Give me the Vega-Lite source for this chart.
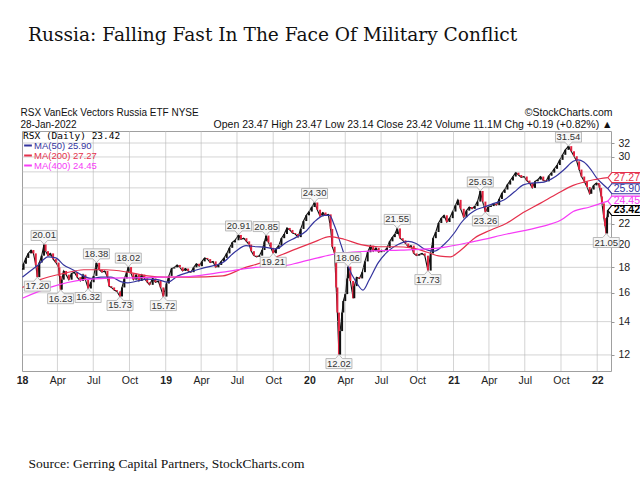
{
  "$schema": "https://vega.github.io/schema/vega-lite/v6.json",
  "width": 589,
  "height": 240,
  "autosize": {"type": "none"},
  "padding": {"left": 22, "top": 131, "right": 29, "bottom": 109},
  "background": "white",
  "title": {
    "text": "Russia: Falling Fast In The Face Of Military Conflict",
    "anchor": "start", "frame": "group", "dx": 6, "offset": 63,
    "font": "DejaVu Serif", "fontSize": 18.6, "fontWeight": "normal", "color": "#111"
  },
  "config": {"view": {"stroke": "#a0a0a0"}, "font": "Liberation Sans"},
  "resolve": {"axis": {"x": "independent", "y": "independent"}},
  "datasets": {
    "grid": [
      {"q":"2018-04-01"},{"q":"2018-07-01"},{"q":"2018-10-01"},{"q":"2019-01-01"},{"q":"2019-04-01"},{"q":"2019-07-01"},{"q":"2019-10-01"},{"q":"2020-01-01"},{"q":"2020-04-01"},{"q":"2020-07-01"},{"q":"2020-10-01"},{"q":"2021-01-01"},{"q":"2021-04-01"},{"q":"2021-07-01"},{"q":"2021-10-01"},{"q":"2022-01-01"}
    ],
    "hgrid": [
      {"g":12},{"g":14},{"g":16},{"g":18},{"g":20},{"g":22},{"g":24},{"g":26},{"g":28},{"g":30},{"g":32}
    ],
    "price": [
      {"d":"2018-01-02","c":17.8},{"d":"2018-01-05","c":18.3},{"d":"2018-01-11","c":18.8},{"d":"2018-01-17","c":19.2},{"d":"2018-01-24","c":19.5},{"d":"2018-01-30","c":19.2},{"d":"2018-02-05","c":18.2},{"d":"2018-02-09","c":17.2},{"d":"2018-02-14","c":18.4},{"d":"2018-02-20","c":19.0},{"d":"2018-02-26","c":20.01},{"d":"2018-03-02","c":19.4},{"d":"2018-03-08","c":19.0},{"d":"2018-03-14","c":19.2},{"d":"2018-03-21","c":18.7},{"d":"2018-03-28","c":18.4},{"d":"2018-04-04","c":18.0},{"d":"2018-04-06","c":17.3},{"d":"2018-04-09","c":16.23},{"d":"2018-04-12","c":17.0},{"d":"2018-04-17","c":17.7},{"d":"2018-04-23","c":17.4},{"d":"2018-04-30","c":17.0},{"d":"2018-05-07","c":17.5},{"d":"2018-05-14","c":17.6},{"d":"2018-05-21","c":17.2},{"d":"2018-05-29","c":16.9},{"d":"2018-06-05","c":17.4},{"d":"2018-06-11","c":17.0},{"d":"2018-06-18","c":16.32},{"d":"2018-06-25","c":16.8},{"d":"2018-07-02","c":17.3},{"d":"2018-07-09","c":18.38},{"d":"2018-07-16","c":17.8},{"d":"2018-07-23","c":17.6},{"d":"2018-07-30","c":17.7},{"d":"2018-08-06","c":17.2},{"d":"2018-08-10","c":16.5},{"d":"2018-08-16","c":16.4},{"d":"2018-08-23","c":16.2},{"d":"2018-08-30","c":16.1},{"d":"2018-09-07","c":15.73},{"d":"2018-09-12","c":16.4},{"d":"2018-09-18","c":17.1},{"d":"2018-09-24","c":17.6},{"d":"2018-09-28","c":18.02},{"d":"2018-10-05","c":17.5},{"d":"2018-10-11","c":17.0},{"d":"2018-10-18","c":17.4},{"d":"2018-10-25","c":16.9},{"d":"2018-11-01","c":17.4},{"d":"2018-11-08","c":17.1},{"d":"2018-11-15","c":16.8},{"d":"2018-11-21","c":16.6},{"d":"2018-11-29","c":17.1},{"d":"2018-12-06","c":16.8},{"d":"2018-12-13","c":16.9},{"d":"2018-12-19","c":16.4},{"d":"2018-12-26","c":15.72},
      {"d":"2019-01-03","c":16.7},{"d":"2019-01-09","c":17.3},{"d":"2019-01-16","c":17.9},{"d":"2019-01-23","c":18.0},{"d":"2019-01-30","c":18.2},{"d":"2019-02-06","c":18.0},{"d":"2019-02-13","c":17.7},{"d":"2019-02-20","c":17.9},{"d":"2019-02-27","c":17.7},{"d":"2019-03-06","c":17.6},{"d":"2019-03-13","c":18.0},{"d":"2019-03-20","c":18.3},{"d":"2019-03-27","c":18.1},{"d":"2019-04-03","c":18.5},{"d":"2019-04-10","c":18.8},{"d":"2019-04-17","c":18.7},{"d":"2019-04-24","c":18.4},{"d":"2019-05-01","c":18.5},{"d":"2019-05-08","c":18.0},{"d":"2019-05-15","c":18.2},{"d":"2019-05-22","c":18.5},{"d":"2019-05-29","c":18.8},{"d":"2019-06-05","c":19.2},{"d":"2019-06-12","c":19.7},{"d":"2019-06-19","c":20.2},{"d":"2019-06-26","c":20.4},{"d":"2019-07-05","c":20.91},{"d":"2019-07-11","c":20.5},{"d":"2019-07-18","c":20.6},{"d":"2019-07-25","c":20.3},{"d":"2019-08-01","c":20.0},{"d":"2019-08-06","c":19.4},{"d":"2019-08-13","c":19.0},{"d":"2019-08-20","c":18.9},{"d":"2019-08-27","c":19.0},{"d":"2019-09-03","c":19.5},{"d":"2019-09-09","c":20.3},{"d":"2019-09-13","c":20.85},{"d":"2019-09-19","c":20.2},{"d":"2019-09-25","c":19.7},{"d":"2019-10-01","c":19.21},{"d":"2019-10-08","c":19.6},{"d":"2019-10-15","c":19.9},{"d":"2019-10-22","c":20.6},{"d":"2019-10-29","c":21.0},{"d":"2019-11-05","c":21.6},{"d":"2019-11-12","c":21.4},{"d":"2019-11-19","c":21.1},{"d":"2019-11-26","c":21.0},{"d":"2019-12-03","c":20.7},{"d":"2019-12-10","c":21.5},{"d":"2019-12-17","c":22.3},{"d":"2019-12-24","c":22.9},{"d":"2019-12-31","c":23.3},
      {"d":"2020-01-07","c":23.8},{"d":"2020-01-14","c":24.3},{"d":"2020-01-21","c":23.5},{"d":"2020-01-28","c":22.8},{"d":"2020-02-04","c":23.2},{"d":"2020-02-11","c":22.9},{"d":"2020-02-18","c":23.0},{"d":"2020-02-24","c":21.5},{"d":"2020-02-28","c":19.8},{"d":"2020-03-05","c":19.2},{"d":"2020-03-09","c":16.4},{"d":"2020-03-12","c":14.6},{"d":"2020-03-16","c":12.02},{"d":"2020-03-19","c":13.4},{"d":"2020-03-24","c":14.6},{"d":"2020-03-27","c":15.4},{"d":"2020-04-01","c":15.9},{"d":"2020-04-06","c":17.1},{"d":"2020-04-08","c":18.06},{"d":"2020-04-14","c":16.9},{"d":"2020-04-21","c":15.6},{"d":"2020-04-24","c":16.5},{"d":"2020-04-30","c":17.2},{"d":"2020-05-07","c":17.1},{"d":"2020-05-14","c":17.6},{"d":"2020-05-21","c":18.5},{"d":"2020-05-28","c":19.3},{"d":"2020-06-04","c":19.9},{"d":"2020-06-11","c":19.4},{"d":"2020-06-18","c":19.7},{"d":"2020-06-25","c":19.3},{"d":"2020-07-02","c":19.5},{"d":"2020-07-09","c":19.4},{"d":"2020-07-16","c":19.7},{"d":"2020-07-23","c":20.3},{"d":"2020-07-30","c":20.7},{"d":"2020-08-05","c":21.0},{"d":"2020-08-11","c":21.55},{"d":"2020-08-18","c":20.6},{"d":"2020-08-25","c":20.4},{"d":"2020-09-01","c":20.1},{"d":"2020-09-08","c":19.8},{"d":"2020-09-15","c":19.9},{"d":"2020-09-22","c":19.2},{"d":"2020-09-29","c":19.0},{"d":"2020-10-06","c":19.1},{"d":"2020-10-13","c":19.2},{"d":"2020-10-20","c":19.0},{"d":"2020-10-28","c":17.73},{"d":"2020-11-04","c":19.2},{"d":"2020-11-10","c":20.6},{"d":"2020-11-17","c":21.2},{"d":"2020-11-24","c":22.1},{"d":"2020-12-01","c":22.6},{"d":"2020-12-08","c":22.9},{"d":"2020-12-15","c":22.2},{"d":"2020-12-22","c":22.6},{"d":"2020-12-30","c":23.3},
      {"d":"2021-01-06","c":24.0},{"d":"2021-01-12","c":24.6},{"d":"2021-01-19","c":23.6},{"d":"2021-01-27","c":22.7},{"d":"2021-02-03","c":23.4},{"d":"2021-02-10","c":23.8},{"d":"2021-02-17","c":23.6},{"d":"2021-02-24","c":23.9},{"d":"2021-03-03","c":24.4},{"d":"2021-03-10","c":25.63},{"d":"2021-03-16","c":24.4},{"d":"2021-03-23","c":23.26},{"d":"2021-03-30","c":23.8},{"d":"2021-04-06","c":23.9},{"d":"2021-04-13","c":24.2},{"d":"2021-04-20","c":24.0},{"d":"2021-04-27","c":24.7},{"d":"2021-05-04","c":25.4},{"d":"2021-05-11","c":25.8},{"d":"2021-05-18","c":26.4},{"d":"2021-05-25","c":26.9},{"d":"2021-06-01","c":27.4},{"d":"2021-06-08","c":27.9},{"d":"2021-06-15","c":27.6},{"d":"2021-06-22","c":27.3},{"d":"2021-06-29","c":27.4},{"d":"2021-07-06","c":26.9},{"d":"2021-07-13","c":26.6},{"d":"2021-07-20","c":26.0},{"d":"2021-07-27","c":26.8},{"d":"2021-08-03","c":27.0},{"d":"2021-08-10","c":27.4},{"d":"2021-08-17","c":26.9},{"d":"2021-08-24","c":26.8},{"d":"2021-08-31","c":27.5},{"d":"2021-09-07","c":27.9},{"d":"2021-09-14","c":28.4},{"d":"2021-09-21","c":28.9},{"d":"2021-09-28","c":29.6},{"d":"2021-10-05","c":30.3},{"d":"2021-10-12","c":31.0},{"d":"2021-10-20","c":31.54},{"d":"2021-10-27","c":30.8},{"d":"2021-11-03","c":30.1},{"d":"2021-11-10","c":29.4},{"d":"2021-11-16","c":28.3},{"d":"2021-11-22","c":27.4},{"d":"2021-11-29","c":26.8},{"d":"2021-12-06","c":26.1},{"d":"2021-12-13","c":25.3},{"d":"2021-12-17","c":25.8},{"d":"2021-12-23","c":26.3},{"d":"2021-12-30","c":26.6},
      {"d":"2022-01-05","c":26.4},{"d":"2022-01-07","c":26.0},{"d":"2022-01-11","c":25.0},{"d":"2022-01-13","c":24.2},{"d":"2022-01-18","c":22.6},{"d":"2022-01-21","c":21.8},{"d":"2022-01-24","c":21.05},{"d":"2022-01-26","c":22.7},{"d":"2022-01-28","c":23.42}
    ],
    "ma": [
      {"s":"MA(50)","d":"2018-01-02","v":17.2},{"s":"MA(50)","d":"2018-01-22","v":17.7},{"s":"MA(50)","d":"2018-02-11","v":18.2},{"s":"MA(50)","d":"2018-03-08","v":18.9},{"s":"MA(50)","d":"2018-03-28","v":18.8},{"s":"MA(50)","d":"2018-04-17","v":18.2},{"s":"MA(50)","d":"2018-05-10","v":17.8},{"s":"MA(50)","d":"2018-05-31","v":17.4},{"s":"MA(50)","d":"2018-06-25","v":17.1},{"s":"MA(50)","d":"2018-07-20","v":17.2},{"s":"MA(50)","d":"2018-08-15","v":17.2},{"s":"MA(50)","d":"2018-09-09","v":16.85},{"s":"MA(50)","d":"2018-09-27","v":16.75},{"s":"MA(50)","d":"2018-10-22","v":16.9},{"s":"MA(50)","d":"2018-11-16","v":17.05},{"s":"MA(50)","d":"2018-12-12","v":17.0},{"s":"MA(50)","d":"2019-01-06","v":16.8},{"s":"MA(50)","d":"2019-02-01","v":17.3},{"s":"MA(50)","d":"2019-03-01","v":17.6},{"s":"MA(50)","d":"2019-04-13","v":18.0},{"s":"MA(50)","d":"2019-05-26","v":18.4},{"s":"MA(50)","d":"2019-06-28","v":19.4},{"s":"MA(50)","d":"2019-07-24","v":19.9},{"s":"MA(50)","d":"2019-08-18","v":19.8},{"s":"MA(50)","d":"2019-09-12","v":19.75},{"s":"MA(50)","d":"2019-10-08","v":19.6},{"s":"MA(50)","d":"2019-11-03","v":20.2},{"s":"MA(50)","d":"2019-11-29","v":20.7},{"s":"MA(50)","d":"2019-12-24","v":21.3},{"s":"MA(50)","d":"2020-01-13","v":22.2},{"s":"MA(50)","d":"2020-02-08","v":22.9},{"s":"MA(50)","d":"2020-02-21","v":22.9},{"s":"MA(50)","d":"2020-03-04","v":21.9},{"s":"MA(50)","d":"2020-03-22","v":19.9},{"s":"MA(50)","d":"2020-04-08","v":18.1},{"s":"MA(50)","d":"2020-04-29","v":16.8},{"s":"MA(50)","d":"2020-05-16","v":16.2},{"s":"MA(50)","d":"2020-06-01","v":17.0},{"s":"MA(50)","d":"2020-06-24","v":18.4},{"s":"MA(50)","d":"2020-07-19","v":19.4},{"s":"MA(50)","d":"2020-08-13","v":20.0},{"s":"MA(50)","d":"2020-09-08","v":20.3},{"s":"MA(50)","d":"2020-09-28","v":20.1},{"s":"MA(50)","d":"2020-10-19","v":19.6},{"s":"MA(50)","d":"2020-11-13","v":19.4},{"s":"MA(50)","d":"2020-12-08","v":20.0},{"s":"MA(50)","d":"2021-01-03","v":21.1},{"s":"MA(50)","d":"2021-01-20","v":22.1},{"s":"MA(50)","d":"2021-02-23","v":23.4},{"s":"MA(50)","d":"2021-03-20","v":23.8},{"s":"MA(50)","d":"2021-04-14","v":24.2},{"s":"MA(50)","d":"2021-05-10","v":24.6},{"s":"MA(50)","d":"2021-06-04","v":25.5},{"s":"MA(50)","d":"2021-06-29","v":26.4},{"s":"MA(50)","d":"2021-07-25","v":26.6},{"s":"MA(50)","d":"2021-08-19","v":26.7},{"s":"MA(50)","d":"2021-09-14","v":27.3},{"s":"MA(50)","d":"2021-10-09","v":28.3},{"s":"MA(50)","d":"2021-11-01","v":29.4},{"s":"MA(50)","d":"2021-11-13","v":29.6},{"s":"MA(50)","d":"2021-11-28","v":29.3},{"s":"MA(50)","d":"2021-12-16","v":28.3},{"s":"MA(50)","d":"2021-12-31","v":27.2},{"s":"MA(50)","d":"2022-01-14","v":26.5},{"s":"MA(50)","d":"2022-01-28","v":25.9},
      {"s":"MA(200)","d":"2018-01-02","v":16.4},{"s":"MA(200)","d":"2018-02-16","v":17.0},{"s":"MA(200)","d":"2018-04-17","v":17.5},{"s":"MA(200)","d":"2018-06-07","v":17.8},{"s":"MA(200)","d":"2018-08-02","v":17.8},{"s":"MA(200)","d":"2018-09-27","v":17.6},{"s":"MA(200)","d":"2018-11-16","v":17.3},{"s":"MA(200)","d":"2018-12-30","v":17.2},{"s":"MA(200)","d":"2019-03-01","v":17.2},{"s":"MA(200)","d":"2019-05-26","v":17.3},{"s":"MA(200)","d":"2019-07-15","v":17.9},{"s":"MA(200)","d":"2019-09-02","v":18.4},{"s":"MA(200)","d":"2019-10-24","v":19.1},{"s":"MA(200)","d":"2019-12-05","v":19.7},{"s":"MA(200)","d":"2020-01-17","v":20.3},{"s":"MA(200)","d":"2020-02-21","v":20.75},{"s":"MA(200)","d":"2020-03-29","v":20.5},{"s":"MA(200)","d":"2020-05-11","v":20.0},{"s":"MA(200)","d":"2020-06-24","v":19.8},{"s":"MA(200)","d":"2020-08-04","v":19.8},{"s":"MA(200)","d":"2020-09-18","v":19.7},{"s":"MA(200)","d":"2020-10-26","v":19.3},{"s":"MA(200)","d":"2020-11-28","v":18.95},{"s":"MA(200)","d":"2020-12-24","v":18.9},{"s":"MA(200)","d":"2021-01-20","v":19.5},{"s":"MA(200)","d":"2021-02-23","v":20.6},{"s":"MA(200)","d":"2021-04-06","v":21.4},{"s":"MA(200)","d":"2021-05-17","v":22.1},{"s":"MA(200)","d":"2021-06-27","v":23.2},{"s":"MA(200)","d":"2021-08-09","v":24.2},{"s":"MA(200)","d":"2021-09-21","v":25.3},{"s":"MA(200)","d":"2021-11-01","v":26.3},{"s":"MA(200)","d":"2021-11-28","v":26.7},{"s":"MA(200)","d":"2021-12-23","v":27.0},{"s":"MA(200)","d":"2022-01-28","v":27.27},
      {"s":"MA(400)","d":"2018-01-02","v":15.6},{"s":"MA(400)","d":"2018-03-13","v":16.4},{"s":"MA(400)","d":"2018-06-07","v":17.0},{"s":"MA(400)","d":"2018-07-30","v":17.1},{"s":"MA(400)","d":"2018-10-12","v":17.15},{"s":"MA(400)","d":"2018-12-20","v":17.2},{"s":"MA(400)","d":"2019-03-01","v":17.25},{"s":"MA(400)","d":"2019-05-26","v":17.6},{"s":"MA(400)","d":"2019-08-18","v":18.0},{"s":"MA(400)","d":"2019-10-24","v":18.1},{"s":"MA(400)","d":"2019-12-05","v":18.4},{"s":"MA(400)","d":"2020-01-22","v":18.8},{"s":"MA(400)","d":"2020-02-28","v":19.1},{"s":"MA(400)","d":"2020-05-29","v":19.4},{"s":"MA(400)","d":"2020-08-20","v":19.5},{"s":"MA(400)","d":"2020-10-26","v":19.6},{"s":"MA(400)","d":"2020-11-28","v":19.7},{"s":"MA(400)","d":"2021-02-23","v":20.3},{"s":"MA(400)","d":"2021-05-17","v":21.0},{"s":"MA(400)","d":"2021-08-09","v":21.7},{"s":"MA(400)","d":"2021-10-01","v":22.4},{"s":"MA(400)","d":"2021-11-01","v":23.3},{"s":"MA(400)","d":"2021-12-13","v":23.8},{"s":"MA(400)","d":"2022-01-28","v":24.45}
    ],
    "ann": [
      {"d":"2018-02-26","v":20.01,"t":"hi"},{"d":"2018-02-09","v":17.20,"t":"lo"},{"d":"2018-04-09","v":16.23,"t":"lo"},{"d":"2018-06-18","v":16.32,"t":"lo"},{"d":"2018-07-09","v":18.38,"t":"hi"},{"d":"2018-09-28","v":18.02,"t":"hi"},{"d":"2018-09-07","v":15.73,"t":"lo"},{"d":"2018-12-26","v":15.72,"t":"lo"},{"d":"2019-07-05","v":20.91,"t":"hi"},{"d":"2019-09-13","v":20.85,"t":"hi"},{"d":"2019-10-01","v":19.21,"t":"lo"},{"d":"2020-01-14","v":24.30,"t":"hi"},{"d":"2020-04-08","v":18.06,"t":"hi"},{"d":"2020-03-16","v":12.02,"t":"lo"},{"d":"2020-08-11","v":21.55,"t":"hi"},{"d":"2020-10-28","v":17.73,"t":"lo"},{"d":"2021-03-10","v":25.63,"t":"hi"},{"d":"2021-03-23","v":23.26,"t":"lo"},{"d":"2021-10-20","v":31.54,"t":"hi"},{"d":"2022-01-24","v":21.05,"t":"lo"}
    ],
    "last": [
      {"s":"MA(200)","d":"2022-01-28","v":27.27},{"s":"MA(50)","d":"2022-01-28","v":25.90},{"s":"MA(400)","d":"2022-01-28","v":24.45},{"s":"RSX","d":"2022-01-28","v":23.42}
    ]
  },
  "layer": [
    {
      "data": {"name": "price"},
      "mark": {"type": "line", "color": "#111", "strokeWidth": 1.1},
      "encoding": {
        "x": {
          "field": "d", "type": "temporal",
          "scale": {"domain": [{"year": 2018, "month": 1, "date": 1}, {"year": 2022, "month": 2, "date": 5}], "nice": false},
          "axis": {
            "orient": "bottom",
            "tickCount": {"interval": "month", "step": 3},
            "labelExpr": "month(datum.value) == 0 ? timeFormat(datum.value, '%y') : timeFormat(datum.value, '%b')",
            "labelFontWeight": {"condition": {"test": "month(datum.value) == 0", "value": "bold"}, "value": "normal"},
            "labelFont": "Liberation Sans", "labelFontSize": 10.5, "labelColor": "#222",
            "labelFlush": false, "labelOverlap": false, "labelPadding": 4,
            "ticks": false, "domain": false, "grid": false,
            "title": "Source: Gerring Capital Partners, StockCharts.com",
            "titleFont": "Liberation Serif", "titleFontSize": 13.5, "titleFontWeight": "normal", "titleColor": "#111",
            "titleAnchor": "start", "titleAlign": "left", "titleBaseline": "alphabetic", "titleX": 6, "titleY": 96
          }
        },
        "y": {
          "field": "c", "type": "quantitative",
          "scale": {"type": "log", "domain": [11.14, 33.83], "nice": false},
          "axis": {
            "orient": "right",
            "values": [12, 14, 16, 18, 20, 22, 24, 26, 28, 30, 32],
            "format": "d",
            "labelExpr": "datum.value == 24 || datum.value == 26 || datum.value == 28 ? '' : datum.label",
            "labelFont": "Liberation Sans", "labelFontSize": 10.5, "labelColor": "#222", "labelPadding": 4,
            "ticks": true, "tickSize": 3, "tickColor": "#999", "domain": false, "grid": false,
            "title": ["©StockCharts.com", "Open 23.47  High 23.47  Low 23.14  Close 23.42  Volume 11.1M  Chg +0.19 (+0.82%) ▲"],
            "titleAngle": 0, "titleAlign": "right", "titleBaseline": "alphabetic", "titleX": 1, "titleY": -15.5,
            "titleFont": "Liberation Sans", "titleFontSize": 10.5, "titleFontWeight": "normal", "titleColor": "#111", "titleLineHeight": 12
          }
        }
      }
    },
    {
      "data": {"name": "grid"},
      "mark": {"type": "rule", "color": "#b8b8b8", "strokeWidth": 1, "opacity": 0.6},
      "encoding": {
        "x": {"field": "q", "type": "temporal", "axis": null},
        "y": {"datum": 11.14, "type": "quantitative", "axis": null},
        "y2": {"datum": 33.83}
      }
    },
    {
      "data": {"name": "hgrid"},
      "mark": {"type": "rule", "color": "#b8b8b8", "strokeWidth": 1, "opacity": 0.6},
      "encoding": {
        "y": {"field": "g", "type": "quantitative", "axis": null},
        "x": {"datum": {"year": 2018, "month": 1, "date": 1}, "type": "temporal", "axis": null},
        "x2": {"datum": {"year": 2022, "month": 2, "date": 5}}
      }
    },
    {
      "data": {"name": "price"},
      "transform": [
        {"window": [{"op": "lag", "field": "c", "as": "p"}], "sort": [{"field": "d"}]},
        {"filter": "isValid(datum.p)"}
      ],
      "mark": {"type": "rule", "strokeWidth": 2},
      "encoding": {
        "x": {"field": "d", "type": "temporal", "axis": null},
        "y": {
          "field": "p", "type": "quantitative",
          "axis": {
            "orient": "left", "labels": false, "ticks": false, "domain": false, "grid": false,
            "title": ["RSX VanEck Vectors Russia ETF  NYSE", "28-Jan-2022"],
            "titleAngle": 0, "titleAlign": "left", "titleBaseline": "alphabetic", "titleX": -2, "titleY": -15.5,
            "titleFont": "Liberation Sans", "titleFontSize": 10, "titleFontWeight": "normal", "titleColor": "#111", "titleLineHeight": 12
          }
        },
        "y2": {"field": "c"},
        "color": {"condition": {"test": "datum.c < datum.p", "value": "#e2223f"}, "value": "#111111"}
      }
    },
    {
      "data": {"name": "ma"},
      "mark": {"type": "line", "strokeWidth": 1.2, "interpolate": "monotone"},
      "encoding": {
        "x": {"field": "d", "type": "temporal", "axis": null},
        "y": {"field": "v", "type": "quantitative", "axis": null},
        "color": {
          "field": "s", "type": "nominal",
          "scale": {"domain": ["MA(50)", "MA(200)", "MA(400)"], "range": ["#34349e", "#e5304c", "#f63cf6"]},
          "legend": {
            "orient": "none", "legendX": 1, "legendY": 0, "padding": 0,
            "title": "RSX (Daily) 23.42",
            "titleFont": "DejaVu Sans Mono", "titleFontSize": 9.5, "titleFontWeight": "normal", "titleColor": "#000", "titlePadding": 0,
            "labelExpr": "datum.label == 'MA(50)' ? 'MA(50) 25.90' : datum.label == 'MA(200)' ? 'MA(200) 27.27' : 'MA(400) 24.45'",
            "labelColor": {"expr": "scale('color', datum.value)"},
            "labelFont": "Liberation Sans", "labelFontSize": 9.5, "labelOffset": 1,
            "symbolType": "stroke", "symbolStrokeWidth": 2, "symbolSize": 60, "rowPadding": 0
          }
        }
      }
    },
    {
      "data": {"name": "ann"},
      "mark": {"type": "point", "filled": true, "fill": "#f6f6f6", "stroke": "#aaaaaa", "strokeWidth": 0.8, "opacity": 1, "size": 400},
      "encoding": {
        "x": {"field": "d", "type": "temporal", "axis": null},
        "y": {"field": "v", "type": "quantitative", "axis": null},
        "shape": {
          "field": "t", "type": "nominal", "legend": null,
          "scale": {"domain": ["hi", "lo"], "range": ["M0,0L-0.35,-0.4L-1.3,-0.4L-1.3,-1.4L1.3,-1.4L1.3,-0.4L0.35,-0.4Z", "M0,0L-0.35,0.4L-1.3,0.4L-1.3,1.4L1.3,1.4L1.3,0.4L0.35,0.4Z"]}
        }
      }
    },
    {
      "data": {"name": "ann"},
      "transform": [{"filter": "datum.t == 'hi'"}],
      "mark": {"type": "text", "dy": -9, "font": "Liberation Sans", "fontSize": 9.5, "color": "#333"},
      "encoding": {
        "x": {"field": "d", "type": "temporal", "axis": null},
        "y": {"field": "v", "type": "quantitative", "axis": null},
        "text": {"field": "v", "type": "quantitative", "format": ".2f"}
      }
    },
    {
      "data": {"name": "ann"},
      "transform": [{"filter": "datum.t == 'lo'"}],
      "mark": {"type": "text", "dy": 9, "font": "Liberation Sans", "fontSize": 9.5, "color": "#333"},
      "encoding": {
        "x": {"field": "d", "type": "temporal", "axis": null},
        "y": {"field": "v", "type": "quantitative", "axis": null},
        "text": {"field": "v", "type": "quantitative", "format": ".2f"}
      }
    },
    {
      "data": {"name": "last"},
      "mark": {"type": "point", "filled": true, "fill": "white", "strokeWidth": 1.1, "opacity": 1, "size": 400, "shape": "M0,0L0.4,-0.5L3.3,-0.5L3.3,0.5L0.4,0.5Z"},
      "encoding": {
        "x": {"field": "d", "type": "temporal", "axis": null},
        "y": {"field": "v", "type": "quantitative", "axis": null},
        "stroke": {
          "field": "s", "type": "nominal", "legend": null,
          "scale": {"domain": ["MA(200)", "MA(50)", "MA(400)", "RSX"], "range": ["#e5304c", "#34349e", "#f63cf6", "#000000"]}
        }
      }
    },
    {
      "data": {"name": "last"},
      "transform": [{"filter": "datum.s != 'RSX'"}],
      "mark": {"type": "text", "dx": 19, "font": "Liberation Sans", "fontSize": 10.5},
      "encoding": {
        "x": {"field": "d", "type": "temporal", "axis": null},
        "y": {"field": "v", "type": "quantitative", "axis": null},
        "text": {"field": "v", "type": "quantitative", "format": ".2f"},
        "fill": {
          "field": "s", "type": "nominal", "legend": null,
          "scale": {"domain": ["MA(200)", "MA(50)", "MA(400)", "RSX"], "range": ["#e5304c", "#34349e", "#f63cf6", "#000000"]}
        }
      }
    },
    {
      "data": {"name": "last"},
      "transform": [{"filter": "datum.s == 'RSX'"}],
      "mark": {"type": "text", "dx": 19, "font": "Liberation Sans", "fontSize": 10.5, "fontWeight": "bold", "color": "#000"},
      "encoding": {
        "x": {"field": "d", "type": "temporal", "axis": null},
        "y": {"field": "v", "type": "quantitative", "axis": null},
        "text": {"field": "v", "type": "quantitative", "format": ".2f"}
      }
    }
  ]
}
